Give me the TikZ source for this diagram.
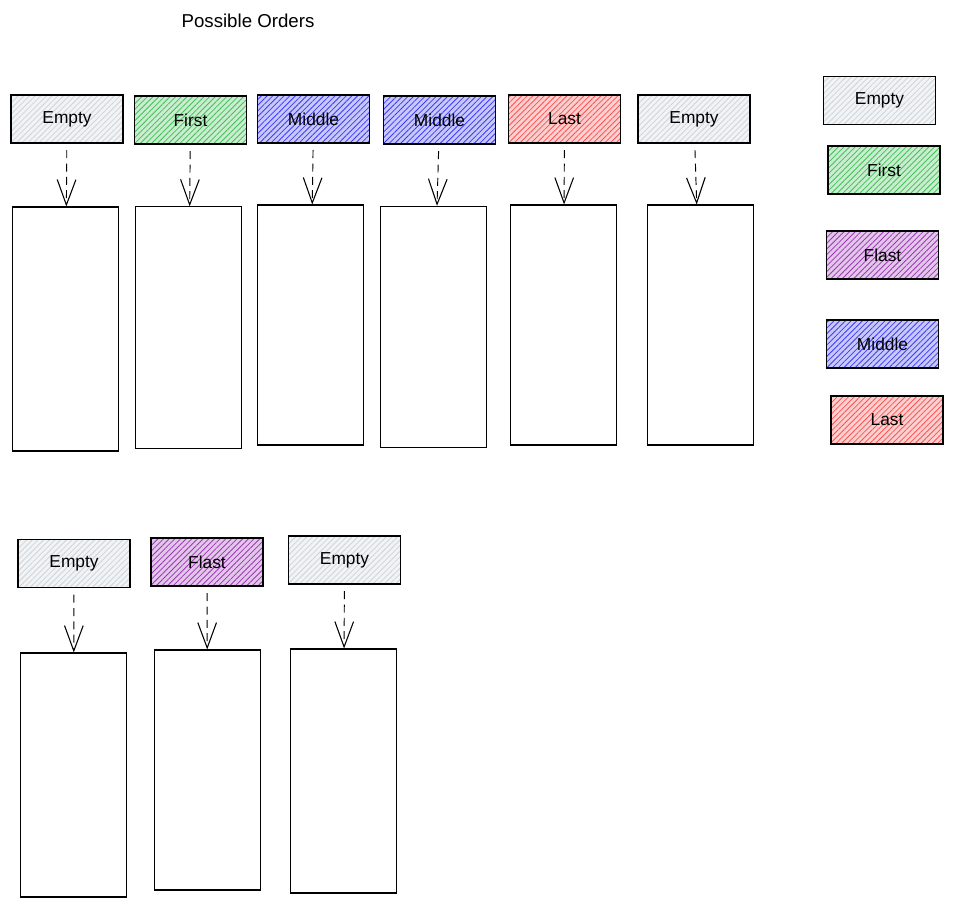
\documentclass[tikz,border=0pt]{standalone}
\usepackage{fontspec}
\setmainfont{Liberation Sans}
\usetikzlibrary{arrows.meta,patterns.meta}
\definecolor{emptyc}{HTML}{CED4DA}
\definecolor{firstc}{HTML}{40C057}
\definecolor{middlec}{HTML}{3B3BF5}
\definecolor{lastc}{HTML}{FA5252}
\definecolor{flastc}{HTML}{9C36B5}

\begin{document}
\begin{tikzpicture}[x=0.75pt, y=-0.75pt, line width=0.8pt,
    font=\fontsize{13}{15}\selectfont,
    tag/.style={draw, rectangle, minimum width=84pt, minimum height=36pt, inner sep=0pt,
        preaction={fill=#1!28},
        preaction={pattern={Lines[angle=45,distance=3pt,line width=0.6pt]}, pattern color=#1}},
    col/.style={draw, rectangle, minimum width=80pt, minimum height=#1, inner sep=0pt},
    feeds/.style={dash pattern=on 6pt off 4pt, line width=0.7pt, shorten <=5pt,
        -{Straight Barb[length=19pt,width=14pt,line width=0.8pt]}}]
        \useasboundingbox (0,0) rectangle (955,906);
        \node[font=\fontsize{14}{16}\selectfont] at (248,21) {Possible Orders};

        % first order
        \node[tag=emptyc] (e1) at (67,119) {Empty};
        \node[tag=firstc] (f1) at (190.5,120) {First};
        \node[tag=middlec] (m1) at (313.5,119) {Middle};
        \node[tag=middlec] (m2) at (439.5,120) {Middle};
        \node[tag=lastc] (l1) at (564.5,119) {Last};
        \node[tag=emptyc] (e2) at (694,119) {Empty};

        \node[col=183pt] (c1) at (65.5,329) {};
        \node[col=181pt] (c2) at (188.5,327.5) {};
        \node[col=180pt] (c3) at (310.5,325) {};
        \node[col=181pt] (c4) at (433.5,327) {};
        \node[col=180pt] (c5) at (563.5,325) {};
        \node[col=180pt] (c6) at (700.5,325) {};

        \draw[feeds] (e1) -- (c1);
        \draw[feeds] (f1) -- (c2);
        \draw[feeds] (m1) -- (c3);
        \draw[feeds] (m2) -- (c4);
        \draw[feeds] (l1) -- (c5);
        \draw[feeds] (e2) -- (c6);

        % legend
        \node[tag=emptyc] (le) at (879.5,100.5) {Empty};
        \node[tag=firstc] (lf) at (884,170) {First};
        \node[tag=flastc] (lfl) at (882.5,255) {Flast};
        \node[tag=middlec] (lm) at (882.5,344) {Middle};
        \node[tag=lastc] (ll) at (887,420) {Last};

        % second order
        \node[tag=emptyc] (b1) at (74,563.5) {Empty};
        \node[tag=flastc] (b2) at (207,562) {Flast};
        \node[tag=emptyc] (b3) at (344.5,560) {Empty};

        \node[col=183pt] (d1) at (73.5,775) {};
        \node[col=180pt] (d2) at (207.5,770) {};
        \node[col=183pt] (d3) at (343.5,771) {};

        \draw[feeds] (b1) -- (d1);
        \draw[feeds] (b2) -- (d2);
        \draw[feeds] (b3) -- (d3);
    \end{tikzpicture}
\end{document}
